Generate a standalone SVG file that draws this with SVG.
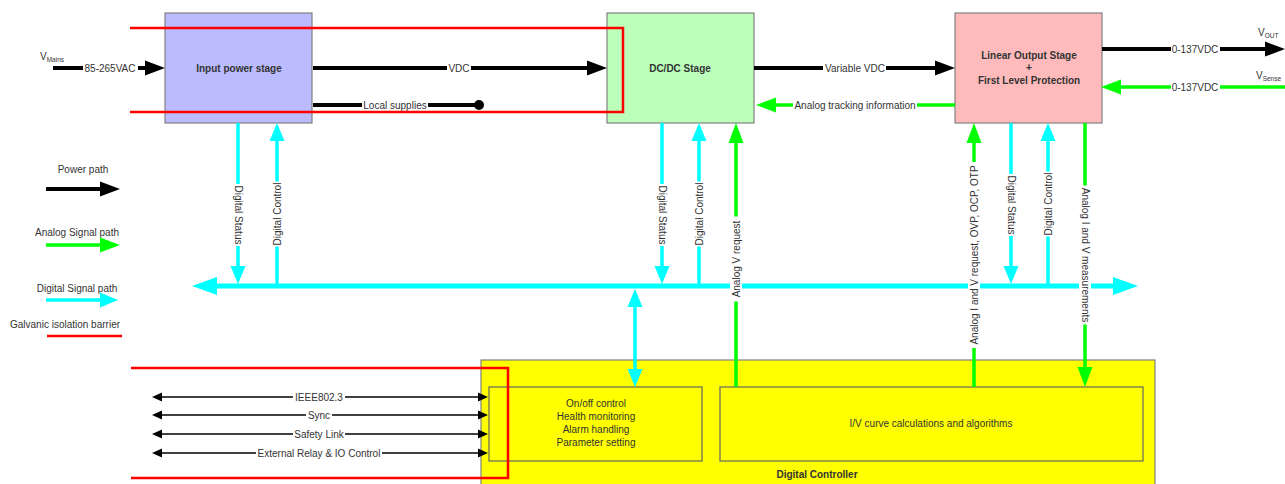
<svg xmlns="http://www.w3.org/2000/svg" width="1285" height="484" viewBox="0 0 1285 484">
<style>
text{font-family:"Liberation Sans",Arial,sans-serif;font-size:10px;fill:#333}
.t{text-anchor:middle}
.b{font-weight:bold}
.box{stroke:#808080;stroke-width:1.2}
.pw{stroke:#000;stroke-width:4;fill:none}
.an{stroke:#00ff00;stroke-width:3.5;fill:none}
.dg{stroke:#00ffff;stroke-width:3.5;fill:none}
.bus{stroke:#00ffff;stroke-width:5;fill:none}
.io{stroke:#000;stroke-width:1.3;fill:none}
.iso{stroke:#ff0000;stroke-width:2.5;fill:none}
.bg{fill:#fff}
</style>
<defs>
<marker id="mP" markerUnits="userSpaceOnUse" markerWidth="20" markerHeight="16" viewBox="0 -8 20 16" refX="0" refY="0" orient="auto-start-reverse"><path d="M0,-7.5 L20,0 L0,7.5 z" fill="#000"/></marker>
<marker id="mA" markerUnits="userSpaceOnUse" markerWidth="20" markerHeight="16" viewBox="0 -8 20 16" refX="0" refY="0" orient="auto-start-reverse"><path d="M0,-7.5 L20,0 L0,7.5 z" fill="#00ff00"/></marker>
<marker id="mD" markerUnits="userSpaceOnUse" markerWidth="18" markerHeight="16" viewBox="0 -8 18 16" refX="0" refY="0" orient="auto-start-reverse"><path d="M0,-7.5 L18,0 L0,7.5 z" fill="#00ffff"/></marker>
<marker id="mB" markerUnits="userSpaceOnUse" markerWidth="25" markerHeight="20" viewBox="0 -10 25 20" refX="0" refY="0" orient="auto-start-reverse"><path d="M0,-9 L25,0 L0,9 z" fill="#00ffff"/></marker>
<marker id="mI" markerUnits="userSpaceOnUse" markerWidth="10" markerHeight="10" viewBox="0 -5 10 10" refX="0" refY="0" orient="auto-start-reverse"><path d="M0,-4.5 L10,0 L0,4.5 z" fill="#000"/></marker>
</defs>
<rect width="1285" height="484" fill="#fff"/>

<g id="input-power-stage">
<rect class="box" x="165" y="13" width="147" height="110" fill="#bbbbff"/>
<text class="t b" x="239" y="72">Input power stage</text>
</g>
<g id="dcdc-stage">
<rect class="box" x="607" y="13" width="147" height="110" fill="#bbffbb"/>
<text class="t b" x="680" y="72">DC/DC Stage</text>
</g>
<g id="linear-output-stage">
<rect class="box" x="955" y="13" width="147" height="110" fill="#ffbbbb"/>
<text class="t b" x="1029" y="59">Linear Output Stage</text>
<text class="t b" x="1029" y="71">+</text>
<text class="t b" x="1029" y="84">First Level Protection</text>
</g>
<g id="digital-controller">
<rect class="box" x="481" y="360" width="674" height="130" fill="#ffff00"/>
<text class="t b" x="817" y="478">Digital Controller</text>
</g>
<g id="control-block">
<rect x="489" y="387" width="213" height="74" fill="#ffff00" stroke="#666" stroke-width="1.2"/>
<text class="t" x="596" y="407">On/off control</text>
<text class="t" x="596" y="420">Health monitoring</text>
<text class="t" x="596" y="433">Alarm handling</text>
<text class="t" x="596" y="446">Parameter setting</text>
</g>
<g id="iv-block">
<rect x="720" y="387" width="423" height="74" fill="#ffff00" stroke="#666" stroke-width="1.2"/>
<text class="t" x="931" y="427">I/V curve calculations and algorithms</text>
</g>

<g id="connectors">
<line class="pw" x1="53" y1="68" x2="145" y2="68" marker-end="url(#mP)"/>
<line class="pw" x1="313" y1="68" x2="587" y2="68" marker-end="url(#mP)"/>
<line class="pw" x1="754" y1="68" x2="935" y2="68" marker-end="url(#mP)"/>
<line class="pw" x1="1102" y1="49" x2="1265" y2="49" marker-end="url(#mP)"/>
<line class="pw" x1="313" y1="105" x2="479" y2="105"/>
<circle cx="479" cy="105" r="5" fill="#000"/>
<line class="an" x1="955" y1="105" x2="776" y2="105" marker-end="url(#mA)"/>
<line class="an" x1="1285" y1="87" x2="1121" y2="87" stroke-width="2.5" marker-end="url(#mA)"/>
<line class="an" x1="736" y1="387" x2="736" y2="143" stroke-width="3" marker-end="url(#mA)"/>
<line class="an" x1="974" y1="387" x2="974" y2="143" stroke-width="3" marker-end="url(#mA)"/>
<line class="an" x1="1085" y1="123" x2="1085" y2="367" stroke-width="3" marker-end="url(#mA)"/>
<line class="bus" x1="217" y1="286" x2="1113" y2="286" marker-start="url(#mB)" marker-end="url(#mB)"/>
<line class="dg" x1="238" y1="123" x2="238" y2="266" marker-end="url(#mD)"/>
<line class="dg" x1="277" y1="286" x2="277" y2="141" marker-end="url(#mD)"/>
<line class="dg" x1="662" y1="123" x2="662" y2="266" marker-end="url(#mD)"/>
<line class="dg" x1="699" y1="286" x2="699" y2="141" marker-end="url(#mD)"/>
<line class="dg" x1="1011" y1="123" x2="1011" y2="266" marker-end="url(#mD)"/>
<line class="dg" x1="1048" y1="286" x2="1048" y2="141" marker-end="url(#mD)"/>
<line class="dg" x1="635" y1="307" x2="635" y2="369" marker-start="url(#mD)" marker-end="url(#mD)"/>
<line class="io" x1="162" y1="397" x2="478" y2="397" marker-start="url(#mI)" marker-end="url(#mI)"/>
<line class="io" x1="162" y1="415" x2="478" y2="415" marker-start="url(#mI)" marker-end="url(#mI)"/>
<line class="io" x1="162" y1="434" x2="478" y2="434" marker-start="url(#mI)" marker-end="url(#mI)"/>
<line class="io" x1="162" y1="453" x2="478" y2="453" marker-start="url(#mI)" marker-end="url(#mI)"/>

<rect class="bg" x="83" y="62" width="55" height="12"/><text class="t" x="110" y="71.5">85-265VAC</text>
<rect class="bg" x="447" y="62" width="24" height="12"/><text class="t" x="459" y="71.5">VDC</text>
<rect class="bg" x="362" y="99" width="66" height="12"/><text class="t" x="395" y="108.5">Local supplies</text>
<rect class="bg" x="823" y="62" width="63" height="12"/><text class="t" x="855" y="71.5">Variable VDC</text>
<rect class="bg" x="793" y="99" width="124" height="12"/><text class="t" x="855" y="108.5">Analog tracking information</text>
<rect class="bg" x="1171" y="43" width="49" height="12"/><text class="t" x="1195" y="52.5">0-137VDC</text>
<rect class="bg" x="1171" y="81" width="49" height="12"/><text class="t" x="1195" y="90.5">0-137VDC</text>
<text x="40" y="60">V<tspan font-size="6.5" dy="2">Mains</tspan></text>
<text x="1258" y="36">V<tspan font-size="6.5" dy="2">OUT</tspan></text>
<text x="1256" y="79">V<tspan font-size="6.5" dy="2">Sense</tspan></text>

<rect class="bg" x="293" y="391" width="52" height="12"/><text class="t" x="319" y="400.5">IEEE802.3</text>
<rect class="bg" x="306" y="409" width="26" height="12"/><text class="t" x="319" y="418.5">Sync</text>
<rect class="bg" x="293" y="428" width="52" height="12"/><text class="t" x="319" y="437.5">Safety Link</text>
<rect class="bg" x="256" y="447" width="126" height="12"/><text class="t" x="319" y="456.5">External Relay &amp; IO Control</text>

<g transform="translate(238,215) rotate(90)"><rect class="bg" x="-31" y="-6" width="62" height="12"/><text class="t" y="3.5">Digital Status</text></g>
<g transform="translate(277,214) rotate(-90)"><rect class="bg" x="-32.5" y="-6" width="65" height="12"/><text class="t" y="3.5">Digital Control</text></g>
<g transform="translate(662,215) rotate(90)"><rect class="bg" x="-31" y="-6" width="62" height="12"/><text class="t" y="3.5">Digital Status</text></g>
<g transform="translate(699,214) rotate(-90)"><rect class="bg" x="-32.5" y="-6" width="65" height="12"/><text class="t" y="3.5">Digital Control</text></g>
<g transform="translate(736,259) rotate(-90)"><rect class="bg" x="-42.5" y="-6" width="85" height="12"/><text class="t" y="3.5">Analog V request</text></g>
<g transform="translate(974,255) rotate(-90)"><rect class="bg" x="-93" y="-6" width="186" height="12"/><text class="t" y="3.5">Analog I and V request, OVP, OCP, OTP</text></g>
<g transform="translate(1011,205) rotate(90)"><rect class="bg" x="-31" y="-6" width="62" height="12"/><text class="t" y="3.5">Digital Status</text></g>
<g transform="translate(1048,204) rotate(-90)"><rect class="bg" x="-32.5" y="-6" width="65" height="12"/><text class="t" y="3.5">Digital Control</text></g>
<g transform="translate(1085,255) rotate(90)"><rect class="bg" x="-69.5" y="-6" width="139" height="12"/><text class="t" y="3.5">Analog I and V measurements</text></g>
</g>

<g id="isolation-barriers">
<polyline class="iso" points="130,28 623,28 623,112 130,112"/>
<polyline class="iso" points="131,368 508,368 508,478 131,478"/>
</g>

<g id="legend">
<text class="t" x="83" y="173">Power path</text>
<line class="pw" x1="46" y1="189" x2="100" y2="189" marker-end="url(#mP)"/>
<text class="t" x="77" y="236">Analog Signal path</text>
<line class="an" x1="46" y1="245" x2="100" y2="245" stroke-width="4" marker-end="url(#mA)"/>
<text class="t" x="77" y="292">Digital Signal path</text>
<line class="dg" x1="46" y1="300" x2="100" y2="300" stroke-width="4" marker-end="url(#mD)"/>
<text class="t" x="65" y="328">Galvanic isolation barrier</text>
<line class="iso" x1="47" y1="336" x2="122" y2="336"/>
</g>
</svg>
